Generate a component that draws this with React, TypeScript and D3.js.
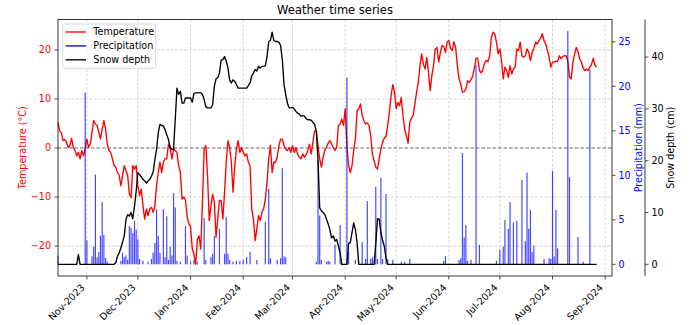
import React from 'react';
import * as d3 from 'd3';

const DAY = 86400000;
const START = Date.UTC(2023, 9, 15);
const X_START = Date.UTC(2023, 9, 15);
const X_END = Date.UTC(2024, 8, 5);

const temperature = [
  5.2,3.5,3.1,1.5,1.7,1.2,0.1,0.5,2.0,0.1, -0.5,-1.6,-0.9,-2.2,-0.5,-1.6,-0.2,1.8,0.1,0.8,
  3.2,5.6,4.9,4.6,3.2,1.8,3.9,5.6,3.9,0.8, -0.5,-0.9,-2.2,-3.6,-3.9,-5.0,-5.6,-7.7,-5.6,-3.6,
  -4.6,-5.6,-9.4,-10.1,-3.6,-4.3,-3.6,-7.7,-9.7,-8.4, -11.8,-14.5,-12.4,-13.8,-12.4,-12.1,-13.1,-11.8,-7.7,-5.0,
  -2.9,-5.0,-2.9,-2.2,-2.2,0.8,0.1,-2.2,-0.2,-0.5, -0.9,-3.6,-5.0,-10.4,-10.0,-10.6,-14.0,-15.5,-16.0,-20.5,
  -21.6,-23.7,-18.6,-17.9,-20.6,-11.0,-0.2,0.5,-5.6,-14.8, -11.8,-9.4,-11.1,-18.2,-14.5,-10.7,-10.7,-14.5,-9.0,-2.9,
  1.5,0.1,-2.9,-9.0,-3.6,-0.2,1.5,-0.9,0.1,-0.9, -1.6,-1.2,-2.9,-3.6,-12.4,-14.5,-18.9,-16.5,-13.8,-14.8,
  -13.1,-12.4,-10.4,-7.0,-2.2,0.5,-5.0,-2.9,-2.9,-1.9, 0.5,1.8,1.8,0.5,-0.2,-0.5,0.1,-0.9,0.5,-0.9,
  0.1,-1.2,-1.9,-2.2,-1.2,-1.9,-1.4,-0.5,0.8,-1.2, 1.2,3.5,3.5,0.5,-2.2,-3.9,-1.9,-0.5,0.1,1.0,
  1.5,0.8,0.1,-0.5,0.1,4.6,4.9,5.9,4.6,8.0, 0.5,-3.6,-5.0,-3.6,-0.5,1.8,7.6,8.0,9.0,6.6,
  5.6,4.9,5.1,4.6,2.5,-1.2,-2.6,-3.9,-4.3,-2.2, -0.2,1.2,2.0,2.4,4.6,7.3,10.7,12.9,11.4,8.0,
  9.3,8.6,10.3,6.6,3.9,2.5,1.0,5.2,6.1,6.6, 9.0,11.4,13.4,16.8,19.2,17.1,16.1,18.5,15.4,11.7,
  14.8,16.8,20.2,20.5,17.5,19.5,20.9,20.7,19.5,21.6, 21.9,20.3,19.9,21.7,20.5,16.8,14.1,13.0,11.4,11.5,
  12.0,13.7,13.4,13.9,14.6,16.3,18.3,18.3,15.8,15.3, 16.0,17.3,17.8,17.6,18.8,22.6,23.6,23.3,21.6,19.2,
  20.2,17.8,14.1,16.5,15.8,14.4,16.8,15.1,16.1,16.5, 20.2,19.9,21.6,18.8,18.5,18.8,20.2,19.5,17.8,19.5,
  20.3,21.6,21.2,21.9,22.4,23.3,21.9,21.2,19.9,18.5, 16.5,17.5,17.5,17.7,17.6,18.8,18.2,18.7,18.8,18.8,
  17.8,14.4,14.1,17.5,19.2,20.5,19.6,18.2,17.5,16.3, 15.8,16.1,15.8,16.5,17.1,18.3,16.8,16.5,
];

const precipitation = [
  1.0,0,0,0,0,0,0,0,0,0, 0,0,0,0,0,0,19.3,2.7,0,0,
  0.9,2.0,10.1,0.8,1.4,3.2,7.0,3.3,0.7,0.3, 0,0,0,0,0,0,0,0.4,1.3,0.8,
  1.0,0.5,4.3,4.1,3.5,4.9,3.9,2.8,0.6,0, 0.4,0,0,0.3,0,0.6,1.3,2.4,6.2,3.2,
  1.3,0,6.2,0.8,5.4,0.5,2.0,1.0,8.0,6.4, 0.4,0,0.3,0,0,4.3,1.0,0,0.3,0,
  0.5,0,0.3,0,0,0,5.2,0.5,0,0, 0.8,1.2,3.2,0,0,4.0,0,0,1.2,5.3,
  1.2,0.5,0,0.3,0,0.4,0,0.4,0,0.5, 0,0.8,0,1.4,0,0,0,0.5,0,0,
  0,0,4.8,0,8.5,0.7,0,0,0,0.5, 0,0.7,10.8,0.9,0.8,0,0,0,0,0,
  0,0,0,0,0,0,0,0,0,0, 0,0,0.3,11.7,5.5,0.5,0,0,0.3,0.4,
  0.3,0,0,2.2,0,0,4.4,0,0,0, 21.0,1.5,0,0,0,0.5,0,0,0,2.5,
  0,0.6,7.1,0,0.6,0.8,0,8.7,0.6,0, 9.7,0.6,0,7.9,0.6,0,0,0.5,0,0,
  0,0,0.3,0,0.3,0,0,0.6,0,0, 0,0,0,0,0,0,0,0,0,0,
  0,0,0,0,0,0,0,0.4,0.9,0, 0,0,0,0,0,0,0.5,0.7,12.5,3.0,
  4.4,0.4,0,0.5,0,0,22.4,0,2.2,0, 0,0,0,0,0,0,0,0,0.4,0,
  1.6,0,2.0,5.0,0,4.0,7.0,0,4.7,0, 4.9,0,0,9.5,0,2.6,10.3,4.0,6.1,1.4,
  2.1,0,0,0,0,0,0.6,0,0,0.7, 0.6,10.5,0.9,6.1,1.8,0,0,0,0,0,
  26.2,9.8,0,0,0,0,3.1,0,0,0.3, 0,0,0,21.9,0,0,0,0,
];

const snowDepth = [
  0,0,0,0,0,0,0,0,0,0, 0,0,1.9,0,0,0,0,0,0,0,
  0,0,0,0,0,0,0,0,0,0, 0,0,0,0,0.3,1.6,2.2,3.2,4.3,5.5,
  8.7,9.6,9.3,10.0,8.8,11.2,14.1,17.7,17.3,16.9, 16.4,16.1,15.7,16.1,16.4,17.0,17.8,20.2,22.2,25.4,
  27.0,26.8,26.7,26.0,25.0,24.1,22.5,22.2,22.2,28.0, 34.0,32.8,33.4,31.1,31.1,32.1,32.1,32.1,32.1,31.3,
  33.0,33.1,33.1,33.1,33.1,32.8,31.8,30.4,30.2,30.2, 30.2,30.8,34.4,35.8,36.0,36.9,39.4,39.5,40.1,39.2,
  37.9,35.6,35.0,35.6,35.3,34.7,34.0,34.0,34.0,34.0, 34.0,34.0,34.5,35.0,36.4,36.9,37.6,37.3,38.2,37.9,
  38.2,38.2,38.3,40.1,43.0,43.2,44.8,43.2,43.0,43.0, 42.9,42.2,39.5,34.7,32.8,31.1,30.2,30.2,30.3,30.0,
  29.5,29.2,29.0,28.6,28.7,28.6,28.1,27.9,27.9,27.8, 27.4,27.0,25.7,20.2,10.9,10.3,10.0,9.6,8.7,7.8,
  6.7,5.1,5.5,4.5,4.8,3.5,2.2,0,0,0, 0,4.0,4.2,6.1,8.0,6.7,4.2,0,0,0,
  0,0,0,0,0,0,0,4.0,8.8,8.7, 6.1,4.7,3.5,1.3,0,0,0,0,0,0,
  0,0,0,0,0,0,0,0,0,0, 0,0,0,0,0,0,0,0,0,0,
  0,0,0,0,0,0,0,0,0,0, 0,0,0,0,0,0,0,0,0,0,
  0,0,0,0,0,0,0,0,0,0, 0,0,0,0,0,0,0,0,0,0,
  0,0,0,0,0,0,0,0,0,0, 0,0,0,0,0,0,0,0,0,0,
  0,0,0,0,0,0,0,0,0,0, 0,0,0,0,0,0,0,0,0,0,
  0,0,0,0,0,0,0,0,0,0, 0,0,0,0,0,0,0,0,
];

const monthTicks = [
  [2023, 10], [2023, 11], [2024, 0], [2024, 1], [2024, 2], [2024, 3],
  [2024, 4], [2024, 5], [2024, 6], [2024, 7], [2024, 8],
];
const tempTicks = [-20, -10, 0, 10, 20];
const precipTicks = [0, 5, 10, 15, 20, 25];
const snowTicks = [0, 10, 20, 30, 40];

const tempDomain = [-26.1, 26.2];
const precipDomain = [-1.31, 27.51];
const snowDomain = [-2.25, 47.25];

const FONT = 'DejaVu Sans, sans-serif';
const FS = 9.6;

const fmtNum = (v: number) => (v < 0 ? '\u2212' + Math.abs(v) : String(v));
const fmtMonth = d3.utcFormat('%b-%Y');

export default function App() {
  const W = 697, H = 325;
  const L = 58, R = 612, T = 19.5, B = 276;
  const SNOW_X = 645;

  const x = d3.scaleUtc().domain([new Date(X_START), new Date(X_END)]).range([L, R]);
  const yT = d3.scaleLinear().domain(tempDomain).range([B, T]);
  const yP = d3.scaleLinear().domain(precipDomain).range([B, T]);
  const yS = d3.scaleLinear().domain(snowDomain).range([B, T]);

  const dates = temperature.map((_, i) => new Date(START + i * DAY));
  const tempPath = d3.line<number>().x((_, i) => x(dates[i])).y((d) => yT(d))(temperature) || '';
  const snowPath = d3.line<number>().x((_, i) => x(dates[i])).y((d) => yS(d))(snowDepth) || '';
  const barW = (x(new Date(START + DAY)) - x(new Date(START))) * 0.7;

  const ticks = monthTicks.map(([yy, mm]) => new Date(Date.UTC(yy, mm, 1)));

  return (
    <svg width={W} height={H} style={{ position: 'absolute', left: 0, top: 0, background: '#fff' }}
      fontFamily={FONT}>
      <rect x={0} y={0} width={W} height={H} fill="#fff" />
      {/* grid */}
      <g stroke="#cccccc" strokeWidth={0.8} strokeDasharray="3,1.5">
        {ticks.map((d, i) => (
          <line key={'vg' + i} x1={x(d)} x2={x(d)} y1={T} y2={B} />
        ))}
        {tempTicks.filter((v) => v !== 0).map((v) => (
          <line key={'hg' + v} x1={L} x2={R} y1={yT(v)} y2={yT(v)} />
        ))}
      </g>
      <line x1={L} x2={R} y1={yT(0)} y2={yT(0)} stroke="#555" strokeWidth={0.9} strokeDasharray="3.5,2" />

      {/* temperature */}
      <path d={tempPath} fill="none" stroke="#ff0000" strokeWidth={1.35} strokeLinejoin="round" />

      {/* precipitation */}
      <g fill="#0000ff" fillOpacity={0.72}>
        {precipitation.map((p, i) =>
          p > 0 ? (
            <rect key={'b' + i} x={x(dates[i]) - barW / 2} y={yP(p)} width={barW} height={yP(0) - yP(p)} />
          ) : null
        )}
      </g>

      {/* snow */}
      <path d={snowPath} fill="none" stroke="#000" strokeWidth={1.35} strokeLinejoin="round" />

      {/* spines */}
      <rect x={L} y={T} width={R - L} height={B - T} fill="none" stroke="#222" strokeWidth={0.9} />
      <line x1={SNOW_X} x2={SNOW_X} y1={T} y2={B} stroke="#222" strokeWidth={0.9} />

      {/* left axis */}
      {tempTicks.map((v) => (
        <g key={'lt' + v}>
          <line x1={L - 3.5} x2={L} y1={yT(v)} y2={yT(v)} stroke="#222" strokeWidth={0.8} />
          <text x={L - 7} y={yT(v)} dy="0.35em" textAnchor="end" fontSize={FS} fill="#ff0000">{fmtNum(v)}</text>
        </g>
      ))}
      <text transform={`translate(26,${(T + B) / 2}) rotate(-90)`} textAnchor="middle" fontSize={FS} fill="#ff0000">
        Temperature (°C)
      </text>

      {/* precip axis */}
      {precipTicks.map((v) => (
        <g key={'pt' + v}>
          <line x1={R} x2={R + 3.5} y1={yP(v)} y2={yP(v)} stroke="#222" strokeWidth={0.8} />
          <text x={R + 6.5} y={yP(v)} dy="0.35em" textAnchor="start" fontSize={FS} fill="#0000ff">{fmtNum(v)}</text>
        </g>
      ))}
      <text transform={`translate(641.5,${(T + B) / 2}) rotate(-90)`} textAnchor="middle" fontSize={FS} fill="#0000ff">
        Precipitation (mm)
      </text>

      {/* snow axis */}
      {snowTicks.map((v) => (
        <g key={'st' + v}>
          <line x1={SNOW_X} x2={SNOW_X + 3.5} y1={yS(v)} y2={yS(v)} stroke="#222" strokeWidth={0.8} />
          <text x={SNOW_X + 6.5} y={yS(v)} dy="0.35em" textAnchor="start" fontSize={FS} fill="#000">{fmtNum(v)}</text>
        </g>
      ))}
      <text transform={`translate(673.5,${(T + B) / 2}) rotate(-90)`} textAnchor="middle" fontSize={FS} fill="#000">
        Snow depth (cm)
      </text>

      {/* x axis */}
      {ticks.map((d, i) => (
        <g key={'xt' + i}>
          <line x1={x(d)} x2={x(d)} y1={B} y2={B + 3.5} stroke="#222" strokeWidth={0.8} />
          <text transform={`translate(${x(d) - 1.6},${B + 12.2}) rotate(-45)`} textAnchor="end" fontSize={FS} fill="#000">
            {fmtMonth(d)}
          </text>
        </g>
      ))}

      {/* title */}
      <text x={(L + R) / 2} y={14} textAnchor="middle" fontSize={11.5} fill="#000">Weather time series</text>

      {/* legend */}
      <rect x={62.7} y={24} width={93} height={44.3} rx={2} fill="#fff" fillOpacity={0.8} stroke="#cccccc" strokeWidth={0.8} />
      {[
        ['Temperature', '#ff0000'],
        ['Precipitation', '#0000ff'],
        ['Snow depth', '#000000'],
      ].map(([label, color], i) => (
        <g key={'lg' + i}>
          <line x1={65.7} x2={86} y1={32 + i * 13.9} y2={32 + i * 13.9} stroke={color} strokeWidth={1.35} />
          <text x={93.3} y={32 + i * 13.9} dy="0.35em" fontSize={FS} fill="#000">{label}</text>
        </g>
      ))}
    </svg>
  );
}
